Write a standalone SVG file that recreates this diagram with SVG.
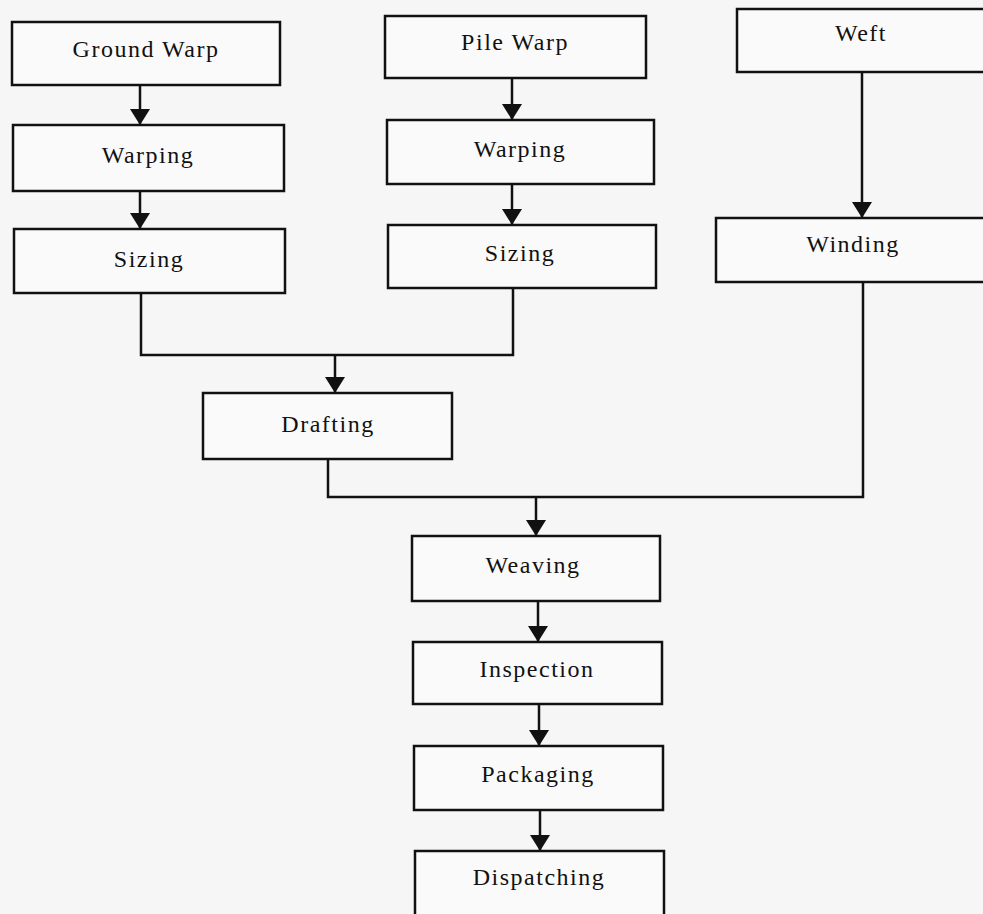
<svg xmlns="http://www.w3.org/2000/svg" width="983" height="914" viewBox="0 0 983 914">
<defs>
<style>
.box{fill:#fafafa;stroke:#111;stroke-width:2.5}
.lbl{font-family:"Liberation Serif","Times New Roman",serif;font-size:24px;letter-spacing:1.5px;fill:#111;text-anchor:middle}
.con{fill:none;stroke:#111;stroke-width:2.5}
</style>
<marker id="ah" markerUnits="userSpaceOnUse" markerWidth="18" markerHeight="22" refX="16" refY="10" orient="auto" viewBox="0 0 18 20">
<path d="M0,0 L16,10 L0,20 Z" fill="#111"/>
</marker>
</defs>
<rect x="0" y="0" width="983" height="914" fill="#f6f6f6"/>
<g id="connectors">
<path class="con" d="M140,85 V125" marker-end="url(#ah)"/>
<path class="con" d="M140,191 V229" marker-end="url(#ah)"/>
<path class="con" d="M512,78 V120" marker-end="url(#ah)"/>
<path class="con" d="M512,184 V225" marker-end="url(#ah)"/>
<path class="con" d="M862,71 V218" marker-end="url(#ah)"/>
<path class="con" d="M141,293 V355 H513 V288"/>
<path class="con" d="M335,355 V393" marker-end="url(#ah)"/>
<path class="con" d="M328,459 V497 H863 V282"/>
<path class="con" d="M536,497 V536" marker-end="url(#ah)"/>
<path class="con" d="M538,601 V642" marker-end="url(#ah)"/>
<path class="con" d="M539,704 V746" marker-end="url(#ah)"/>
<path class="con" d="M540,810 V851" marker-end="url(#ah)"/>
</g>
<g id="ground-warp"><rect class="box" x="12" y="22" width="268" height="63"/><text class="lbl" x="146" y="57">Ground Warp</text></g>
<g id="warping-1"><rect class="box" x="13" y="125" width="271" height="66"/><text class="lbl" x="148" y="163">Warping</text></g>
<g id="sizing-1"><rect class="box" x="14" y="229" width="271" height="64"/><text class="lbl" x="149" y="267">Sizing</text></g>
<g id="pile-warp"><rect class="box" x="385" y="16" width="261" height="62"/><text class="lbl" x="515" y="50">Pile Warp</text></g>
<g id="warping-2"><rect class="box" x="387" y="120" width="267" height="64"/><text class="lbl" x="520" y="157">Warping</text></g>
<g id="sizing-2"><rect class="box" x="388" y="225" width="268" height="63"/><text class="lbl" x="520" y="261">Sizing</text></g>
<g id="weft"><rect class="box" x="737" y="9" width="250" height="63"/><text class="lbl" x="861" y="41">Weft</text></g>
<g id="winding"><rect class="box" x="716" y="218" width="275" height="64"/><text class="lbl" x="853" y="252">Winding</text></g>
<g id="drafting"><rect class="box" x="203" y="393" width="249" height="66"/><text class="lbl" x="328" y="432">Drafting</text></g>
<g id="weaving"><rect class="box" x="412" y="536" width="248" height="65"/><text class="lbl" x="533" y="573">Weaving</text></g>
<g id="inspection"><rect class="box" x="413" y="642" width="249" height="62"/><text class="lbl" x="537" y="677">Inspection</text></g>
<g id="packaging"><rect class="box" x="414" y="746" width="249" height="64"/><text class="lbl" x="538" y="782">Packaging</text></g>
<g id="dispatching"><rect class="box" x="415" y="851" width="249" height="66"/><text class="lbl" x="539" y="885">Dispatching</text></g>
</svg>
